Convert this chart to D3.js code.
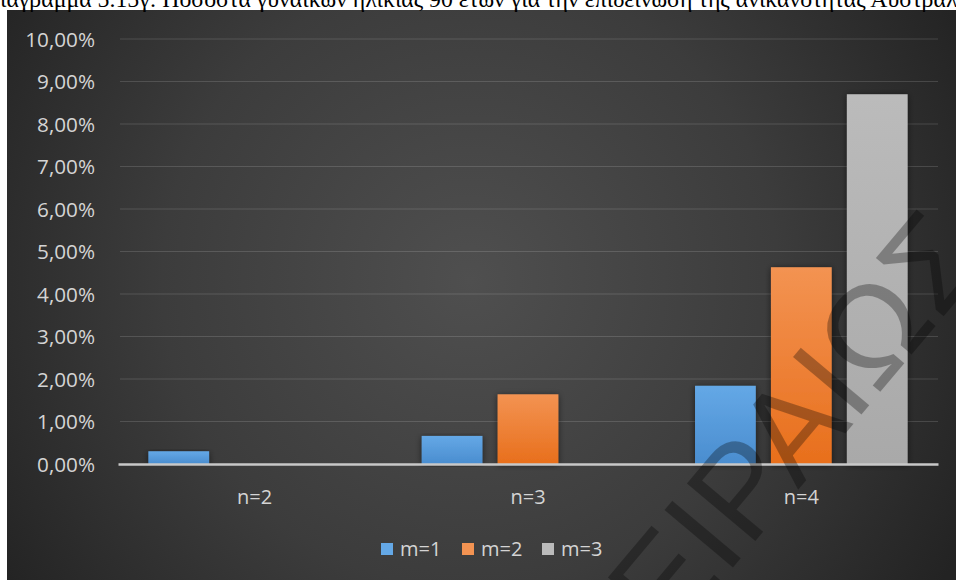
<!DOCTYPE html>
<html>
<head>
<meta charset="utf-8">
<script src="https://cdn.jsdelivr.net/npm/d3@7"></script>
<style>
  html, body { margin: 0; padding: 0; background: #ffffff; overflow: hidden; }
  svg { display: block; }
</style>
</head>
<body>
<svg id="chart" width="956" height="580"></svg>
<script>
// Chart data
const caption = "Διάγραμμα 5.15γ: Ποσοστά γυναικών ηλικίας 90 ετών για την επιδείνωση της ανικανότητας Αυστραλίας";
const categories = ["n=2", "n=3", "n=4"];
const seriesNames = ["m=1", "m=2", "m=3"];
const m1Values = [0.0030, 0.0066, 0.0184];
const m2Values = [0, 0.0164, 0.0463];
const m3Values = [0, 0, 0.0870];
const yTickValues = [0, 0.01, 0.02, 0.03, 0.04, 0.05, 0.06, 0.07, 0.08, 0.09, 0.10];
const watermarkText = "ΠΑΝΕΠΙΣΤΗΜΙΟ ΠΕΙΡΑΙΩΣ";

const seriesValues = [m1Values, m2Values, m3Values];
const seriesColors = [
  ["#64a8e6", "#4a8dcf"],
  ["#f39352", "#e86f1c"],
  ["#bbbbbb", "#a9a9a9"]
];

const W = 956, H = 580;
const svg = d3.select("#chart");
const defs = svg.append("defs");

// Dark chart-area background
const bg = defs.append("radialGradient").attr("id", "bgGrad")
  .attr("gradientUnits", "userSpaceOnUse")
  .attr("cx", 470).attr("cy", 280).attr("r", 560);
bg.append("stop").attr("offset", "0%").attr("stop-color", "#4f4f4f");
bg.append("stop").attr("offset", "55%").attr("stop-color", "#3c3c3c");
bg.append("stop").attr("offset", "100%").attr("stop-color", "#232323");

// Bar gradients
seriesColors.forEach((c, i) => {
  const g = defs.append("linearGradient").attr("id", "barGrad" + i)
    .attr("x1", 0).attr("y1", 0).attr("x2", 0).attr("y2", 1);
  g.append("stop").attr("offset", "0%").attr("stop-color", c[0]);
  g.append("stop").attr("offset", "100%").attr("stop-color", c[1]);
});

// Soft shadow around bars
const sh = defs.append("filter").attr("id", "barShadow")
  .attr("x", "-30%").attr("y", "-10%").attr("width", "160%").attr("height", "120%");
sh.append("feDropShadow").attr("dx", 0).attr("dy", 1).attr("stdDeviation", 3)
  .attr("flood-color", "#000").attr("flood-opacity", 0.55);

svg.append("rect").attr("x", 7).attr("y", 10).attr("width", W - 7).attr("height", H - 10)
  .attr("fill", "url(#bgGrad)");

// Caption line along the top edge
const serif = "'Liberation Serif', 'DejaVu Serif', serif";
const cap = svg.append("text")
  .attr("font-family", serif).attr("font-size", 20).attr("fill", "#000").attr("y", 7).text(caption);
const probe = svg.append("text").attr("font-family", serif).attr("font-size", 20).text("Δ");
const probe2 = svg.append("text").attr("font-family", serif).attr("font-size", 20)
  .text(caption.slice(0, caption.indexOf("Αυστραλ") + 7));
const wD = probe.node().getComputedTextLength();
const wUpTo = probe2.node().getComputedTextLength();
const capSize = 20 * 958 / (wUpTo - wD);
cap.attr("font-size", capSize).attr("x", -wD * capSize / 20);
probe.remove(); probe2.remove();

// Scales
const y = d3.scaleLinear().domain([0, 0.10]).range([464, 39]);
const x0 = d3.scaleBand().domain(categories).range([118, 938]).padding(0);
const x1 = d3.scaleBand().domain(seriesNames).range([0, x0.bandwidth()])
  .paddingInner(0.2).paddingOuter(0.4);

const locale = d3.formatLocale({ decimal: ",", thousands: ".", grouping: [3], currency: ["", "€"] });
const pct = locale.format(".2%");

const font = "'Open Sans', 'Noto Sans', sans-serif";
const textColor = "#d4d4d4";

// Tick label size chosen so "0,00%" spans about 58px
const tp = svg.append("text").attr("font-family", font).attr("font-size", 20).text(pct(0));
const tickSize = Math.max(19, Math.min(24, 20 * 58 / tp.node().getComputedTextLength()));
tp.remove();

// Gridlines
svg.append("g").selectAll("line").data(yTickValues.filter(v => v > 0)).join("line")
  .attr("x1", 120).attr("x2", 938)
  .attr("y1", d => y(d)).attr("y2", d => y(d))
  .attr("stroke", "#ffffff").attr("stroke-opacity", 0.14).attr("stroke-width", 1);

// Y axis labels
const yAxis = svg.append("g").attr("transform", "translate(95,0)")
  .call(d3.axisLeft(y).tickValues(yTickValues).tickFormat(pct).tickSize(0).tickPadding(0));
yAxis.select(".domain").remove();
yAxis.selectAll("text").attr("font-family", font).attr("font-size", tickSize)
  .attr("fill", textColor).attr("dy", "0.35em");

// Bars
const groups = svg.append("g").selectAll("g").data(categories).join("g")
  .attr("transform", d => `translate(${x0(d)},0)`);
groups.selectAll("rect")
  .data((c, ci) => seriesNames.map((s, si) => ({ s, si, v: seriesValues[si][ci] })).filter(d => d.v > 0))
  .join("rect")
  .attr("x", d => x1(d.s)).attr("width", x1.bandwidth())
  .attr("y", d => y(d.v)).attr("height", d => y(0) - y(d.v))
  .attr("fill", d => `url(#barGrad${d.si})`)
  .attr("filter", "url(#barShadow)");

// Baseline axis
const xAxis = svg.append("g").attr("transform", `translate(0,${y(0)})`)
  .call(d3.axisBottom(x0).tickSize(0).tickPadding(26));
xAxis.select(".domain").attr("stroke", "#c8c8c8").attr("stroke-width", 2.5);
xAxis.selectAll("text").attr("font-family", font).attr("font-size", 20).attr("fill", textColor);

// Legend
const legendX = [381, 462, 542];
const legend = svg.append("g").selectAll("g").data(seriesNames).join("g")
  .attr("transform", (d, i) => `translate(${legendX[i]},549)`);
legend.append("rect").attr("x", 0).attr("y", -6).attr("width", 12).attr("height", 12)
  .attr("fill", (d, i) => seriesColors[i][0]);
legend.append("text").attr("x", 19).attr("dy", "0.35em")
  .attr("font-family", font).attr("font-size", 20).attr("fill", textColor).text(d => d);

// Diagonal watermark
svg.append("text")
  .attr("transform", "translate(991,260) rotate(-50)")
  .attr("text-anchor", "end")
  .attr("font-family", "'Liberation Sans', 'DejaVu Sans', sans-serif")
  .attr("font-size", 130)
  .attr("fill", "#000").attr("fill-opacity", 0.3)
  .text(watermarkText);
</script>
</body>
</html>
